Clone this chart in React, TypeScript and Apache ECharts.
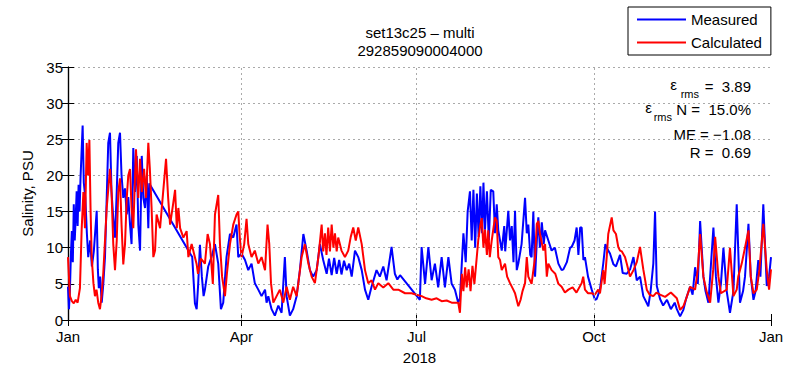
import React, { useEffect, useRef } from "react";
import * as echarts from "echarts";

// x = day of year 2018, y = salinity (PSU)
const measuredDays: number[] = [
  0, 0.5, 1, 1.5, 2, 2.5, 3, 3.5, 4, 4.5, 5, 5.5, 6, 6.5, 7.6, 8.2, 9, 9.8, 10.5, 11.5, 12.4, 13.4, 14.9, 15.5, 16, 16.7, 17.5, 18.3, 19.2, 20.1, 20.9, 21.8, 22.6, 23.5, 24.4, 25.3, 26.1, 27, 27.8, 28.7, 29.6, 30.5, 31.3, 32.2, 33, 33.9, 34.8, 35.7, 36.5, 37.4, 38.3, 39.1, 40, 40.9, 41.7, 42.2,
  64.5, 65.9, 66.8, 67.6, 68.5, 69.5, 70.4, 71.1, 72.8, 74.5, 76.3, 78, 79.4, 80.6, 82.3, 84.1, 85.8, 87.5, 88.4, 90.1, 91.9, 93.6, 95.3, 97, 98.8, 100.5, 102.3, 103.1, 104, 105.7, 107.4, 109.2, 110.9, 112.6, 113.5, 115.2, 116.9, 118.7, 120.4, 122.2, 123.9, 125.6, 127.3, 129.1, 130.8, 132.5, 134.3, 135.5, 136.9, 138.2, 139.5, 140.8, 142, 143.3, 144.7,
  146, 147.3, 149, 150.7, 152.5, 154.2, 155.9, 157.6, 160.2, 161.9, 163.7, 165.4, 168, 169.7, 171, 172.4,
  182.7, 183.6, 185.4, 187.1, 188.8, 190.5, 192.2, 194, 195.7, 197.5, 199.2, 200.9, 202.6, 203.5,
  205.3, 206.5, 207.5, 208.7, 209.6, 210.5, 211.4, 212.3, 213.2, 214.1, 215, 215.7, 216.5, 217.5, 218.5, 219.5, 220.8, 221.7, 222.6, 223.4, 224.3, 225.2, 226.5, 227, 228.6, 229.5, 230.4, 231.3, 232.1, 233, 233.8, 235.5, 237.3, 238.2, 239, 240, 240.7, 241.6, 242.5, 243.5, 244.2, 245, 246, 247, 247.7, 249.4, 251.1, 252.8, 254.6, 256.3, 257.2, 259, 260.7, 261.5, 263, 264.1, 265, 265.9, 266.7, 267.6, 268.4, 270, 271.9, 273.6, 274.5, 276.2, 277.9, 279, 279.7, 281.4, 283.2, 284.5, 286.6, 288, 290.1, 291.8, 293.6, 295.3, 297, 298.7, 301.3, 302.5, 303.9, 304.8, 305.7, 307.4, 309, 311, 313, 315, 316.1, 317.8, 319.5, 321, 323, 324.3, 325.6, 327, 328.2, 329.9, 331, 332.5, 335.1, 336.4, 337.7, 339, 340.3, 342, 343.7, 345.5, 347.2, 348.9, 350.5, 351.5, 353.3, 354.5, 355.9, 357, 358.4, 359.5, 361, 362.8, 364, 365,
];
const measuredValues: number[] = [
  4.6, 1.5, 4.2, 9, 12.3, 8, 16, 11, 14.2, 17.8, 13, 18.7, 15, 19.6, 26.9, 19, 16.9, 12, 8.7, 11, 7.4, 9.5, 15.1, 7, 4.4, 6, 2.4, 4.9, 8.7, 16.9, 24.5, 25.9, 17.7, 14.1, 11.4, 17.7, 24.5, 25.9, 20, 16.9, 18.2, 14.6, 17, 13.2, 10.5, 23.8, 17.7, 22.7, 13.2, 9.6, 22.7, 16.9, 15.5, 20, 12.7, 18.9,
  8.7, 2.3, 1.5, 5, 10.4, 6, 3.3, 4.2, 7.4, 8.7, 10.5, 7.8, 1.5, 2.4, 8.7, 11.9, 11.4, 13.2, 8.7, 9.2, 8.3, 6.9, 7.8, 5.1, 4.2, 3.3, 4.2, 2.4, 3.3, 1.5, 0.6, 2, 1, 8.7, 3.3, 0.6, 1.5, 3.3, 6.9, 11.9, 9.6, 6.9, 6, 6.9, 10.5, 8.3, 6.4, 8.5, 6.2, 8.6, 6.4, 8.3, 6.3, 8.2, 6.9,
  7.8, 6, 9.6, 8.7, 6.9, 4.2, 2.8, 4.6, 6.9, 6, 7.4, 5.5, 10.1, 6.4, 5.6, 6.2,
  2.8, 10.1, 5, 10.1, 5.5, 7.8, 4.5, 8.7, 4.5, 8.7, 5, 4.2, 2.4, 3,
  12, 8, 15, 17.8, 11, 18, 10, 17.5, 11.5, 18.5, 12, 19, 12.5, 17.8, 11, 18, 17.8, 12, 16, 12.4, 11, 9.6, 13, 9.5, 15.1, 11, 13, 8, 15.1, 6.9, 7.8, 10.5, 16.9, 12, 13.2, 9, 8.7, 15, 6, 11.4, 14.2, 10, 13.5, 10.5, 12.4, 11, 9.6, 10, 7.8, 6.9, 7, 8, 10, 10.1, 11, 12.8, 9, 12.8, 12.8, 8.3, 8.7, 6, 4.2, 2.8, 2.9, 4.2, 7.8, 10.5, 10, 9.2, 7.7, 7.4, 9, 6.5, 6.4, 7, 8.7, 5.5, 6, 3.3, 1.9, 4, 7.8, 15, 4.7, 2.9, 2, 2.8, 1.5, 2.4, 1.5, 0.5, 1.4, 3, 4.6, 3.5, 7.3, 5, 13.7, 6, 4, 2.4, 12.8, 6, 2.4, 5, 10, 4, 1, 4, 16, 2.4, 4, 6, 13.3, 6, 2.8, 4, 8.3, 6, 16, 4.7, 6, 8.7,
];

const calculatedDays: number[] = [
  0, 0.5, 1, 2, 3, 4, 5, 6.2, 7.1, 8, 8.8, 9.7, 10.4, 11.1, 11.7, 12.3, 13.2, 14, 14.8, 15.7, 16.6, 17.4, 18.3, 20.1, 21.8, 22.6, 23.5, 24.4, 25.3, 26.1, 27, 27.8, 28.7, 29.6, 30.5, 31.3, 32.2, 33, 33.9, 35.3, 36.5, 37.4, 38.3, 39.5, 40.5, 41.7, 42.5, 43.4, 44.3, 45.2, 46, 47.8, 49.4, 50.9, 52, 53, 54.5, 55.6, 56.5, 57.3, 58.2, 59.9, 61.6, 62.5, 64.2, 66.8, 67.5,
  69, 71.1, 72.5, 73.7, 75.2, 76.3, 78, 78.9, 80, 81.5, 82.5, 84.1, 85.8, 87.5, 88.4, 89.2, 90.1, 91.5, 92.7, 93.6, 95.3, 97, 98.8, 100.5, 102.3, 103.6, 104.5, 105.4, 106.6, 108.3, 110, 111.8, 113.5, 115.2, 116.9, 118.7, 119.6, 121.3, 123, 124.8, 126.5, 128.2, 130, 131.7, 132.5, 133.4, 134.2, 135.1, 136, 136.9, 137.8, 138.6, 139.5, 140.3, 142, 143.8, 145.5, 146.8, 148.1, 149.4, 150.7, 152.5, 154.2, 155.9, 157.6, 159.4, 161.1, 163.7, 166.3, 168.9, 171.5, 175, 178.4, 181, 183.6, 186, 188.8, 191.4, 194, 196.6, 199.2, 202.6, 203.5,
  204.5, 205.3, 206.2, 207, 208, 209, 210, 211, 212, 213, 214, 214.8, 215.7, 216.5, 217.5, 218.2, 219, 220, 221.7, 222.6, 223.4, 224.3, 225.2, 226.9, 228, 229.5, 231.2, 232.1, 233.8, 235, 236, 237.3, 238.2, 239, 240.7, 242.5, 243.4, 244.2, 245, 246.8, 247.7, 248.6, 249.4, 251.1, 253, 254.6, 256.3, 258, 259.8, 262, 264, 266.7, 267.5, 268.4, 270, 271.9, 273.5, 275.3, 276.2, 277.9, 278.6, 279.7, 280.5, 282.3, 283.2, 284.5, 285.7, 286.6, 287.5, 289.2, 290.1, 291.8, 293.6, 295.3, 297, 298.7, 300.5, 302, 303.9, 305.5, 307.4, 310, 313, 316.1, 317.8, 319.5, 321, 323, 325.6, 327, 328.2, 329.9, 331.5, 333.4, 335, 336, 337.7, 339, 342, 343.7, 345.5, 347.2, 348, 349.8, 351.5, 353.3, 354.5, 355.9, 357.6, 359, 361, 362.8, 364, 365,
];
const calculatedValues: number[] = [
  8.7, 6, 3.3, 2.6, 2.3, 2.8, 2.4, 4.4, 12.6, 17.7, 12.7, 24.5, 20, 24.9, 15.5, 8.7, 5.1, 3.3, 4.2, 2.4, 1.5, 3.3, 6.4, 15.5, 20.9, 17.7, 10.5, 6.9, 11, 17.7, 19.6, 13.2, 7.7, 10.5, 16.9, 20, 20.9, 15.5, 12.7, 23.6, 16.9, 22.3, 17.7, 20.9, 16.9, 24.5, 20.9, 15.5, 8.7, 9.6, 14.6, 12.7, 17.7, 22.3, 16.9, 13.2, 15.9, 18, 12.7, 15.5, 12.7, 11.4, 12.3, 8.7, 10.5, 7.7, 6.4,
  8.5, 7.8, 11.9, 10.5, 5, 14.6, 17.3, 10.5, 6, 3.3, 6.4, 10.5, 13.2, 14.6, 15, 11.4, 8.7, 10.5, 14, 10.5, 8.7, 9.6, 7.8, 8.7, 6.9, 13.2, 10.5, 5.1, 2.4, 3.3, 4.2, 2.4, 4.6, 2.8, 4.6, 3.3, 5.1, 8.7, 10.5, 7.8, 6, 5.1, 8.7, 13.2, 9.5, 12, 9, 12.8, 9.5, 13.2, 10, 12, 9.5, 11.4, 9.6, 8.7, 9.6, 11.5, 12.8, 11, 12.8, 10.5, 6.9, 5.1, 5.5, 4.2, 5.1, 4.5, 5.1, 4.2, 4.2, 3.7, 3.7, 3.5, 3.3, 3, 2.8, 3, 2.6, 2.7, 2.4, 2.4, 1,
  6.4, 4, 7.3, 4.5, 7, 4, 7.5, 5, 8, 11, 13, 14.1, 10, 12.5, 9, 12.4, 8.7, 11, 14.2, 13.7, 8.7, 8.3, 6.9, 7.8, 6, 5.1, 4.2, 3.7, 1.9, 2.8, 4, 5.1, 8.7, 6, 5, 8.7, 13.3, 13.7, 12, 9.6, 10.5, 6, 7.8, 6.9, 6.4, 5, 4.6, 3.8, 4.2, 4.5, 3.8, 5.1, 6, 4.2, 3.7, 3.7, 3.5, 4.2, 3.7, 6.9, 5, 8.7, 11.9, 14.2, 12.4, 11.9, 10.1, 9.6, 9.5, 8.7, 7.8, 6, 6.9, 8, 10.1, 7, 4.2, 3.5, 3.3, 3.8, 3.5, 3.2, 3.8, 3, 1.4, 1.9, 3, 4.6, 4.2, 7, 11.9, 6, 4, 2.4, 7, 11.5, 6, 3.7, 4.2, 10, 3.3, 4.2, 6, 7.8, 10, 12.4, 6, 3.7, 4.2, 7, 13.3, 6.9, 4.2, 7,
];

const tickDays: number[] = [0, 90, 181, 273, 365];
const tickLabels: string[] = ["Jan", "Apr", "Jul", "Oct", "Jan"];
const gridDays: number[] = [90, 181, 273];
const seriesNames: string[] = ["Measured", "Calculated"];
const titleLines: string[] = ["set13c25 \u2013 multi", "292859090004000"];
const statLines: string[] = ["=  3.89", "N =  15.0%", "ME = \u22121.08", "R =  0.69"];

const FONT = "'Liberation Sans', Arial, Helvetica, sans-serif";
const GRID_LINE = { color: "#aaaaaa", type: [2, 3] as number[], width: 1 };

export default function App() {
  const ref = useRef<HTMLDivElement>(null);
  useEffect(() => {
    if (!ref.current) return;
    const chart = echarts.init(ref.current, null, { renderer: "svg" });
    const measured = measuredDays.map((d, i) => [d, measuredValues[i]]);
    const calculated = calculatedDays.map((d, i) => [d, calculatedValues[i]]);
    const labelFor = (v: number) => {
      const i = tickDays.indexOf(Math.round(v));
      return i >= 0 ? tickLabels[i] : "";
    };
    const textBase = { fontFamily: FONT, fontSize: 15, fill: "#000", lineHeight: 13 };
    const subBase = { fontFamily: FONT, fontSize: 11, fill: "#000", lineHeight: 10 };
    chart.setOption({
      animation: false,
      backgroundColor: "#fff",
      textStyle: { fontFamily: FONT },
      grid: { left: 68, right: 23, top: 67, bottom: 46, containLabel: false },
      legend: {
        data: seriesNames,
        orient: "vertical",
        left: 628,
        top: 7,
        icon: "rect",
        itemWidth: 49,
        itemHeight: 2,
        itemGap: 8,
        padding: [5, 9, 5, 9],
        borderColor: "#000",
        borderWidth: 1,
        backgroundColor: "#fff",
        textStyle: { fontFamily: FONT, fontSize: 15, color: "#000" },
      },
      xAxis: [
        {
          type: "value",
          min: 0,
          max: 365,
          position: "bottom",
          name: "2018",
          nameLocation: "middle",
          nameGap: 30,
          nameTextStyle: { fontFamily: FONT, fontSize: 15, color: "#000" },
          axisLine: { lineStyle: { color: "#000", width: 1.2 } },
          axisTick: { inside: true, length: 6, customValues: tickDays, lineStyle: { color: "#000" } },
          axisLabel: { customValues: tickDays, formatter: labelFor, fontSize: 15, lineHeight: 14, color: "#000", margin: 9, fontFamily: FONT },
          splitLine: { show: false },
        },
        {
          type: "value",
          min: 0,
          max: 365,
          position: "top",
          axisLine: { lineStyle: { color: "#000", width: 1.2 } },
          axisTick: { inside: true, length: 6, customValues: tickDays, lineStyle: { color: "#000" } },
          axisLabel: { show: false },
          splitLine: { show: false },
        },
      ],
      yAxis: [
        {
          type: "value",
          min: 0,
          max: 35,
          interval: 5,
          position: "left",
          name: "Salinity, PSU",
          nameLocation: "middle",
          nameGap: 31,
          nameTextStyle: { fontFamily: FONT, fontSize: 15, color: "#000" },
          axisLine: { show: true, lineStyle: { color: "#000", width: 1.2 } },
          axisTick: { show: true, inside: true, length: 6, lineStyle: { color: "#000" } },
          axisLabel: { fontSize: 15, lineHeight: 14, color: "#000", margin: 5, fontFamily: FONT },
          splitLine: { show: true, lineStyle: GRID_LINE },
        },
        {
          type: "value",
          min: 0,
          max: 35,
          interval: 5,
          position: "right",
          axisLine: { show: true, lineStyle: { color: "#000", width: 1.2 } },
          axisTick: { show: true, inside: true, length: 6, lineStyle: { color: "#000" } },
          axisLabel: { show: false },
          splitLine: { show: false },
        },
      ],
      series: [
        {
          name: "grid",
          type: "line",
          data: [],
          z: 1,
          silent: true,
          markLine: {
            silent: true,
            symbol: "none",
            label: { show: false },
            lineStyle: GRID_LINE,
            data: gridDays.map((d) => ({ xAxis: d })),
          },
        },
        {
          name: seriesNames[0],
          type: "line",
          data: measured,
          showSymbol: false,
          color: "#0000ff",
          lineStyle: { color: "#0000ff", width: 2 },
          z: 2,
        },
        {
          name: seriesNames[1],
          type: "line",
          data: calculated,
          showSymbol: false,
          color: "#ff0000",
          lineStyle: { color: "#ff0000", width: 2 },
          z: 3,
        },
      ],
      graphic: [
        { type: "text", x: 420, y: 32, style: { ...textBase, text: titleLines[0], align: "center", verticalAlign: "middle" } },
        { type: "text", x: 420, y: 50, style: { ...textBase, text: titleLines[1], align: "center", verticalAlign: "middle" } },
        { type: "text", x: 751, y: 86, style: { ...textBase, text: statLines[0], align: "right", verticalAlign: "middle" } },
        { type: "text", x: 699, y: 94, style: { ...subBase, text: "rms", align: "right", verticalAlign: "middle" } },
        { type: "text", x: 677, y: 84, style: { ...textBase, text: "\u03b5", align: "right", verticalAlign: "middle" } },
        { type: "text", x: 751, y: 109, style: { ...textBase, text: statLines[1], align: "right", verticalAlign: "middle" } },
        { type: "text", x: 672, y: 117, style: { ...subBase, text: "rms", align: "right", verticalAlign: "middle" } },
        { type: "text", x: 652, y: 107, style: { ...textBase, text: "\u03b5", align: "right", verticalAlign: "middle" } },
        { type: "text", x: 751, y: 134, style: { ...textBase, text: statLines[2], align: "right", verticalAlign: "middle" } },
        { type: "text", x: 751, y: 152, style: { ...textBase, text: statLines[3], align: "right", verticalAlign: "middle" } },
      ],
    });
    return () => chart.dispose();
  }, []);
  return <div ref={ref} style={{ position: "fixed", left: 0, top: 0, width: 794, height: 370 }} />;
}
